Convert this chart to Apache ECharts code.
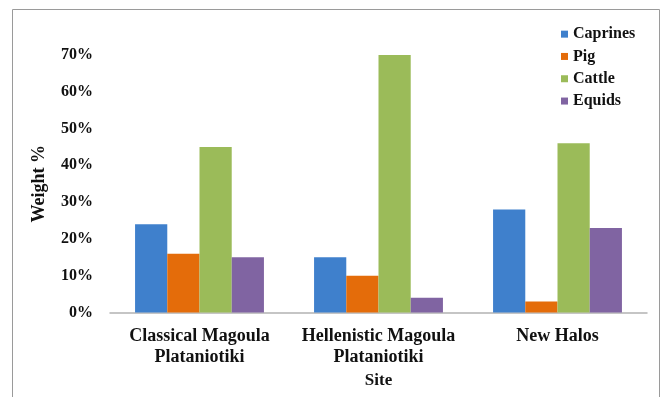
<!DOCTYPE html>
<html>
<head>
<meta charset="utf-8">
<script src="https://cdn.jsdelivr.net/npm/echarts@6/dist/echarts.min.js"></script>
<style>
  html, body { margin: 0; padding: 0; background: #fff; }
  #chart { width: 664px; height: 397px; }
</style>
</head>
<body>
<div id="chart"></div>
<script>
// Share of bone weight per taxon at each site (%)
const sites = ['Classical Magoula\nPlataniotiki', 'Hellenistic Magoula\nPlataniotiki', 'New Halos'];
const caprines = [24, 15, 28];
const pig = [16, 10, 3];
const cattle = [45, 70, 46];
const equids = [15, 4, 23];

const seriesNames = ['Caprines', 'Pig', 'Cattle', 'Equids'];
const seriesData = [caprines, pig, cattle, equids];
const colors = ['#3f80cc', '#e46c0a', '#9bbb59', '#8064a2'];

const FONT = '"Liberation Serif", "Times New Roman", serif';

const chart = echarts.init(document.getElementById('chart'), null, { renderer: 'canvas' });

chart.setOption({
  animation: false,
  backgroundColor: '#ffffff',
  color: colors,
  graphic: [{
    type: 'rect',
    shape: { x: 12.5, y: 9.5, width: 647, height: 400 },
    style: { fill: 'none', stroke: '#9a9a9a', lineWidth: 1 },
    silent: true
  }],
  legend: {
    orient: 'vertical',
    left: 556,
    top: 21,
    itemWidth: 7,
    itemHeight: 7,
    itemGap: 6,
    icon: 'rect',
    data: seriesNames,
    textStyle: {
      fontFamily: FONT, fontWeight: 'bold', fontSize: 16, color: '#111',
      lineHeight: 16.3, padding: [0, 0, 0, 0]
    }
  },
  grid: { left: 110, right: 17, top: 55, bottom: 84.5, containLabel: false },
  xAxis: {
    type: 'category',
    data: sites,
    name: 'Site',
    nameLocation: 'middle',
    nameGap: 60,
    nameTextStyle: { fontFamily: FONT, fontWeight: 'bold', fontSize: 17, color: '#111' },
    axisLine: { show: true, lineStyle: { color: '#b3b3b3', width: 1.5 } },
    axisTick: { show: false },
    axisLabel: {
      fontFamily: FONT, fontWeight: 'bold', fontSize: 18, color: '#111',
      lineHeight: 21, margin: 13, interval: 0
    }
  },
  yAxis: {
    type: 'value',
    min: 0,
    max: 70,
    interval: 10,
    name: 'Weight %',
    nameLocation: 'middle',
    nameGap: 62,
    nameRotate: 90,
    nameTextStyle: { fontFamily: FONT, fontWeight: 'bold', fontSize: 18, color: '#111' },
    axisLine: { show: false },
    axisTick: { show: false },
    splitLine: { show: false },
    axisLabel: {
      fontFamily: FONT, fontWeight: 'bold', fontSize: 16, color: '#111',
      margin: 17,
      formatter: v => v + '%'
    }
  },
  series: seriesNames.map((name, i) => ({
    name,
    type: 'bar',
    data: seriesData[i],
    barGap: '0%',
    barCategoryGap: '28%',
    itemStyle: { color: colors[i] }
  }))
});
</script>
</body>
</html>
